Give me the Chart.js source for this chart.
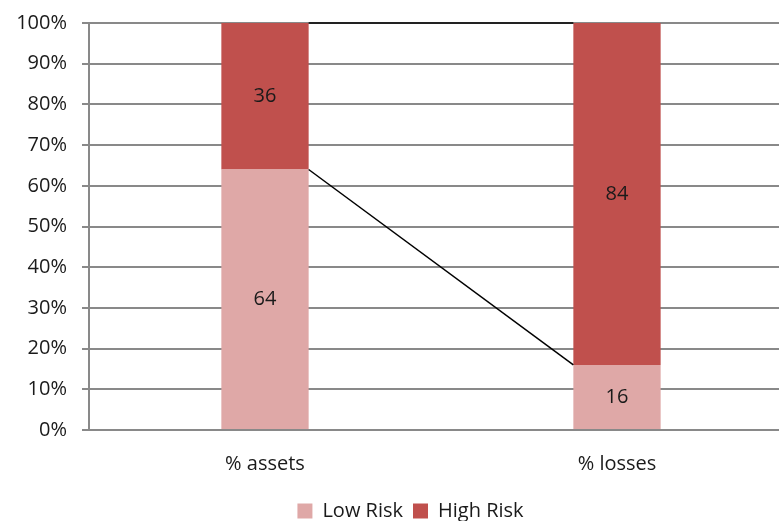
<!DOCTYPE html>
<html>
<head>
<meta charset="utf-8">
<script src="https://cdn.jsdelivr.net/npm/chart.js@4.4.0/dist/chart.umd.min.js"></script>
<style>
  html, body { margin: 0; padding: 0; background: #fff; overflow: hidden; }
  #wrap { width: 793px; height: 535px; margin-top: -4px; position: relative; }
</style>
</head>
<body>
<div id="wrap"><canvas id="riskChart"></canvas></div>
<script>
// categories and shares (percent)
const categories = ["% assets", "% losses"];
const lowRisk = [64, 16];
const highRisk = [36, 84];
const seriesNames = ["Low Risk", "High Risk"];

const FONT = "'Open Sans', 'Noto Sans', sans-serif";
const TEXT = "#1a1a1a";
const GRID = "#898989";

// value labels in the middle of each segment
const segmentLabels = {
  id: "segmentLabels",
  afterDatasetsDraw(chart) {
    const ctx = chart.ctx;
    ctx.save();
    ctx.font = "20px " + FONT;
    ctx.fillStyle = TEXT;
    ctx.textAlign = "center";
    ctx.textBaseline = "middle";
    chart.data.datasets.forEach((ds, i) => {
      chart.getDatasetMeta(i).data.forEach((bar, j) => {
        const mid = (bar.y + bar.base) / 2;
        ctx.fillText(ds.data[j], bar.x, mid);
      });
    });
    ctx.restore();
  }
};

// series lines joining the two bars
const seriesLines = {
  id: "seriesLines",
  afterDatasetsDraw(chart) {
    const ctx = chart.ctx;
    ctx.save();
    ctx.strokeStyle = "#000";
    ctx.lineWidth = 1.5;
    chart.data.datasets.forEach((ds, i) => {
      const bars = chart.getDatasetMeta(i).data;
      const a = bars[0], b = bars[1];
      ctx.beginPath();
      ctx.moveTo(a.x + a.width / 2, a.y);
      ctx.lineTo(b.x - b.width / 2, b.y);
      ctx.stroke();
    });
    ctx.restore();
  }
};

// nudge the legend a little to the right
const legendShift = {
  id: "legendShift",
  afterLayout(chart) {
    chart.legend.left += 14;
    chart.legend.right += 14;
  }
};

new Chart(document.getElementById("riskChart"), {
  type: "bar",
  data: {
    labels: categories,
    datasets: [
      { label: seriesNames[0], data: lowRisk, backgroundColor: "#DFA8A7" },
      { label: seriesNames[1], data: highRisk, backgroundColor: "#C0504D" }
    ]
  },
  options: {
    responsive: true,
    maintainAspectRatio: false,
    animation: false,
    categoryPercentage: 1,
    barPercentage: 0.248,
    layout: { padding: { top: 9, left: 0, right: 0, bottom: 0 } },
    plugins: {
      legend: {
        position: "bottom",
        labels: {
          font: { family: FONT, size: 20 },
          color: TEXT,
          boxWidth: 15,
          boxHeight: 15,
          padding: 10
        }
      },
      tooltip: { enabled: false }
    },
    scales: {
      x: {
        stacked: true,
        grid: { display: false },
        border: { display: true, color: GRID, width: 2 },
        ticks: { font: { family: FONT, size: 20 }, color: TEXT, padding: 14 },
        afterFit(scale) { scale.height = 61; }
      },
      y: {
        stacked: true,
        min: 0,
        max: 100,
        grid: { color: GRID, lineWidth: 2, tickLength: 7 },
        border: { display: true, color: GRID, width: 2 },
        ticks: {
          stepSize: 10,
          font: { family: FONT, size: 20 },
          color: TEXT,
          padding: 15,
          callback: v => v + "%"
        },
        afterFit(scale) { scale.width = 89; }
      }
    }
  },
  plugins: [segmentLabels, seriesLines, legendShift]
});
</script>
</body>
</html>
